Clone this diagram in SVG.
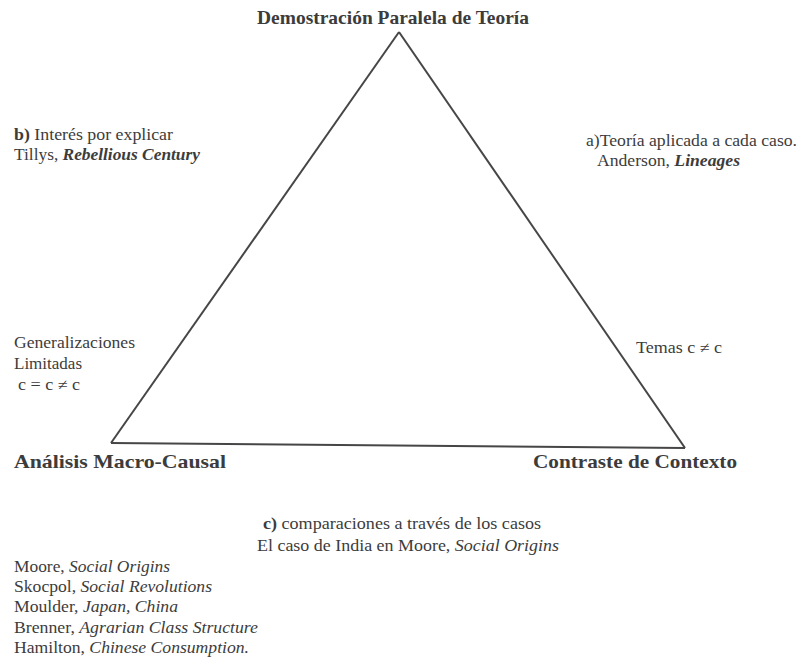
<svg xmlns="http://www.w3.org/2000/svg" width="801" height="659" viewBox="0 0 801 659">
  <style>
    text { font-family: "Liberation Serif", "Times New Roman", "DejaVu Serif", serif; fill: #3c3c3c; }
    .title { font-size: 19px; font-weight: bold; }
    .lbl { font-size: 16px; }
    .it { font-style: italic; font-weight: bold; }
    .i { font-style: italic; }
    .b { font-weight: bold; }
    .edge { fill: none; stroke: #464646; stroke-width: 2; }
  </style>
  <rect width="801" height="659" fill="#ffffff"/>

  <!-- triangle edges -->
  <g id="connectors">
    <path class="edge" d="M399 32 L111 443"/>
    <path class="edge" d="M399 32 L685 448"/>
    <path class="edge" d="M111 443 L685 448"/>
  </g>

  <!-- vertices -->
  <g id="node-top">
    <text class="title" x="257" y="24" textLength="272" lengthAdjust="spacingAndGlyphs">Demostración Paralela de Teoría</text>
  </g>
  <g id="node-left">
    <text class="title" x="14" y="468" textLength="212" lengthAdjust="spacingAndGlyphs">Análisis  Macro-Causal</text>
  </g>
  <g id="node-right">
    <text class="title" x="533" y="468" textLength="204" lengthAdjust="spacingAndGlyphs">Contraste de Contexto</text>
  </g>

  <!-- edge annotations -->
  <g id="label-b">
    <text class="lbl" x="14" y="140" textLength="159" lengthAdjust="spacingAndGlyphs"><tspan class="b">b)</tspan> Interés por explicar</text>
    <text class="lbl" x="14" y="160" textLength="186" lengthAdjust="spacingAndGlyphs">Tillys, <tspan class="it">Rebellious Century</tspan></text>
  </g>
  <g id="label-a">
    <text class="lbl" x="586" y="146" textLength="211" lengthAdjust="spacingAndGlyphs">a)Teoría aplicada a cada caso.</text>
    <text class="lbl" x="597" y="166" textLength="143" lengthAdjust="spacingAndGlyphs">Anderson, <tspan class="it">Lineages</tspan></text>
  </g>
  <g id="label-gen">
    <text class="lbl" x="14" y="348" textLength="121" lengthAdjust="spacingAndGlyphs">Generalizaciones</text>
    <text class="lbl" x="14" y="369" textLength="68" lengthAdjust="spacingAndGlyphs">Limitadas</text>
    <text class="lbl" x="18" y="390" textLength="62" lengthAdjust="spacingAndGlyphs">c = c ≠ c</text>
  </g>
  <g id="label-temas">
    <text class="lbl" x="636" y="353" textLength="86" lengthAdjust="spacingAndGlyphs">Temas c ≠ c</text>
  </g>
  <g id="label-c">
    <text class="lbl" x="263" y="529" textLength="278" lengthAdjust="spacingAndGlyphs"><tspan class="b">c)</tspan> comparaciones a través de los casos</text>
    <text class="lbl" x="257" y="551" textLength="302" lengthAdjust="spacingAndGlyphs">El caso de India en Moore, <tspan class="i">Social Origins</tspan></text>
  </g>

  <!-- references list -->
  <g id="references">
    <text class="lbl" x="14" y="572" textLength="156" lengthAdjust="spacingAndGlyphs">Moore, <tspan class="i">Social Origins</tspan></text>
    <text class="lbl" x="14" y="592" textLength="198" lengthAdjust="spacingAndGlyphs">Skocpol, <tspan class="i">Social Revolutions</tspan></text>
    <text class="lbl" x="14" y="612" textLength="164" lengthAdjust="spacingAndGlyphs">Moulder, <tspan class="i">Japan, China</tspan></text>
    <text class="lbl" x="14" y="633" textLength="244" lengthAdjust="spacingAndGlyphs">Brenner, <tspan class="i">Agrarian Class Structure</tspan></text>
    <text class="lbl" x="14" y="653" textLength="235" lengthAdjust="spacingAndGlyphs">Hamilton, <tspan class="i">Chinese Consumption.</tspan></text>
  </g>
</svg>
